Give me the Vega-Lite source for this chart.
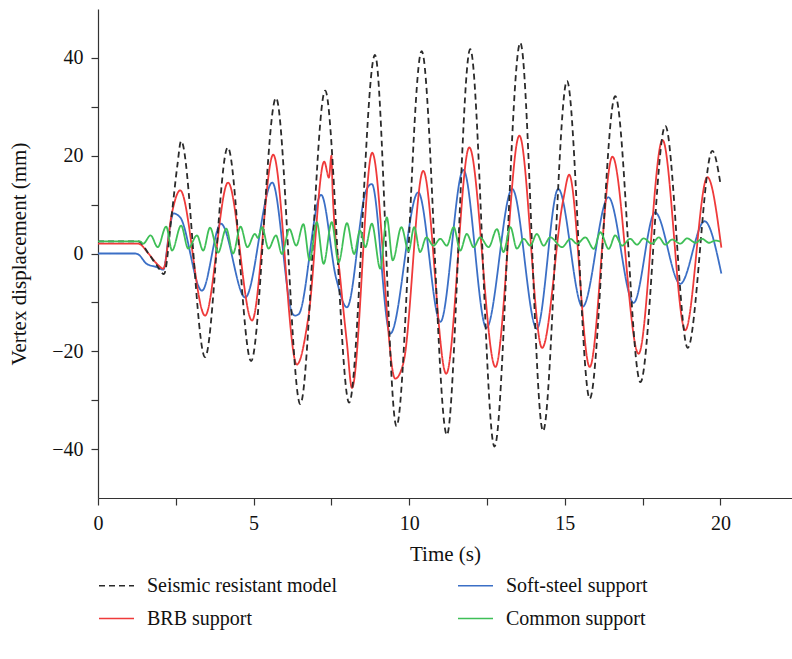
{
  "$schema": "https://vega.github.io/schema/vega-lite/v6.json",
  "autosize": {"type": "none"},
  "width": 694,
  "height": 489,
  "padding": {"left": 98, "top": 9, "right": 0, "bottom": 161},
  "background": "white",
  "config": {
    "view": {"stroke": null},
    "font": "Liberation Serif",
    "axis": {
      "labelFont": "Liberation Serif",
      "titleFont": "Liberation Serif",
      "labelFontSize": 20,
      "titleFontSize": 21,
      "titleFontWeight": "normal",
      "labelColor": "#111",
      "titleColor": "#111",
      "domainColor": "#333",
      "tickColor": "#333",
      "domainWidth": 1.2,
      "tickWidth": 1.2,
      "tickSize": 7,
      "grid": false
    },
    "legend": {
      "labelFont": "Liberation Serif",
      "labelFontSize": 20,
      "labelColor": "#111",
      "labelLimit": 400
    }
  },
  "data": {
    "values": [
      {"s": "Soft-steel support", "t": 0, "v": 0},
      {"s": "Soft-steel support", "t": 1.2, "v": 0},
      {"s": "Soft-steel support", "t": 1.3, "v": -0.2},
      {"s": "Soft-steel support", "t": 1.56, "v": -2.1},
      {"s": "Soft-steel support", "t": 1.89, "v": -2.8},
      {"s": "Soft-steel support", "t": 2.1, "v": -3.3},
      {"s": "Soft-steel support", "t": 2.31, "v": 5.4},
      {"s": "Soft-steel support", "t": 2.42, "v": 8.2},
      {"s": "Soft-steel support", "t": 2.64, "v": 7.4},
      {"s": "Soft-steel support", "t": 3.34, "v": -7.6},
      {"s": "Soft-steel support", "t": 3.95, "v": 6.1},
      {"s": "Soft-steel support", "t": 4.73, "v": -9.0},
      {"s": "Soft-steel support", "t": 5.6, "v": 14.5},
      {"s": "Soft-steel support", "t": 6.25, "v": -12.3},
      {"s": "Soft-steel support", "t": 6.33, "v": -12.7},
      {"s": "Soft-steel support", "t": 6.45, "v": -12.4},
      {"s": "Soft-steel support", "t": 7.17, "v": 12.0},
      {"s": "Soft-steel support", "t": 7.65, "v": -5.0},
      {"s": "Soft-steel support", "t": 8.0, "v": -11.0},
      {"s": "Soft-steel support", "t": 8.62, "v": 13.0},
      {"s": "Soft-steel support", "t": 8.8, "v": 14.2},
      {"s": "Soft-steel support", "t": 9.39, "v": -16.4},
      {"s": "Soft-steel support", "t": 10.29, "v": 12.5},
      {"s": "Soft-steel support", "t": 11.0, "v": -14.0},
      {"s": "Soft-steel support", "t": 11.74, "v": 17.1},
      {"s": "Soft-steel support", "t": 12.48, "v": -15.2},
      {"s": "Soft-steel support", "t": 13.31, "v": 13.2},
      {"s": "Soft-steel support", "t": 14.1, "v": -15.4},
      {"s": "Soft-steel support", "t": 14.79, "v": 13.2},
      {"s": "Soft-steel support", "t": 15.57, "v": -10.9},
      {"s": "Soft-steel support", "t": 16.4, "v": 11.5},
      {"s": "Soft-steel support", "t": 17.21, "v": -10.1},
      {"s": "Soft-steel support", "t": 17.9, "v": 8.4},
      {"s": "Soft-steel support", "t": 18.71, "v": -6.2},
      {"s": "Soft-steel support", "t": 19.49, "v": 6.6},
      {"s": "Soft-steel support", "t": 20.03, "v": -4.1},

      {"s": "BRB support", "t": 0, "v": 2.0},
      {"s": "BRB support", "t": 1.3, "v": 2.0},
      {"s": "BRB support", "t": 1.62, "v": 0},
      {"s": "BRB support", "t": 1.89, "v": -2.1},
      {"s": "BRB support", "t": 2.1, "v": -3.1},
      {"s": "BRB support", "t": 2.37, "v": 8.1},
      {"s": "BRB support", "t": 2.64, "v": 12.9},
      {"s": "BRB support", "t": 3.44, "v": -12.7},
      {"s": "BRB support", "t": 4.18, "v": 14.5},
      {"s": "BRB support", "t": 4.95, "v": -13.7},
      {"s": "BRB support", "t": 5.63, "v": 20.2},
      {"s": "BRB support", "t": 6.39, "v": -22.7},
      {"s": "BRB support", "t": 6.76, "v": -13.0},
      {"s": "BRB support", "t": 7.27, "v": 18.8},
      {"s": "BRB support", "t": 7.42, "v": 15.5},
      {"s": "BRB support", "t": 7.5, "v": 20.0},
      {"s": "BRB support", "t": 7.54, "v": 12.5},
      {"s": "BRB support", "t": 7.78, "v": -4.8},
      {"s": "BRB support", "t": 8.0, "v": -18.4},
      {"s": "BRB support", "t": 8.16, "v": -27.5},
      {"s": "BRB support", "t": 8.81, "v": 20.6},
      {"s": "BRB support", "t": 9.55, "v": -25.6},
      {"s": "BRB support", "t": 9.82, "v": -22.2},
      {"s": "BRB support", "t": 10.45, "v": 16.9},
      {"s": "BRB support", "t": 11.19, "v": -24.6},
      {"s": "BRB support", "t": 11.93, "v": 21.7},
      {"s": "BRB support", "t": 12.77, "v": -23.2},
      {"s": "BRB support", "t": 13.54, "v": 24.1},
      {"s": "BRB support", "t": 14.27, "v": -19.3},
      {"s": "BRB support", "t": 14.95, "v": 11.0},
      {"s": "BRB support", "t": 15.14, "v": 16.1},
      {"s": "BRB support", "t": 15.8, "v": -23.2},
      {"s": "BRB support", "t": 16.53, "v": 19.8},
      {"s": "BRB support", "t": 17.37, "v": -20.5},
      {"s": "BRB support", "t": 18.14, "v": 23.2},
      {"s": "BRB support", "t": 18.87, "v": -15.7},
      {"s": "BRB support", "t": 19.58, "v": 15.6},
      {"s": "BRB support", "t": 20.03, "v": 1.2},

      {"s": "Seismic resistant model", "t": 0, "v": 2.5},
      {"s": "Seismic resistant model", "t": 1.3, "v": 2.5},
      {"s": "Seismic resistant model", "t": 1.62, "v": 0},
      {"s": "Seismic resistant model", "t": 1.9, "v": -2.5},
      {"s": "Seismic resistant model", "t": 2.12, "v": -4.2},
      {"s": "Seismic resistant model", "t": 2.37, "v": 8},
      {"s": "Seismic resistant model", "t": 2.55, "v": 18},
      {"s": "Seismic resistant model", "t": 2.67, "v": 23},
      {"s": "Seismic resistant model", "t": 3.44, "v": -21.2},
      {"s": "Seismic resistant model", "t": 4.17, "v": 21.7},
      {"s": "Seismic resistant model", "t": 4.92, "v": -22.0},
      {"s": "Seismic resistant model", "t": 5.72, "v": 31.8},
      {"s": "Seismic resistant model", "t": 6.5, "v": -30.8},
      {"s": "Seismic resistant model", "t": 7.3, "v": 33.3},
      {"s": "Seismic resistant model", "t": 8.07, "v": -30.5},
      {"s": "Seismic resistant model", "t": 8.9, "v": 40.6},
      {"s": "Seismic resistant model", "t": 9.59, "v": -35.3},
      {"s": "Seismic resistant model", "t": 10.4, "v": 41.4},
      {"s": "Seismic resistant model", "t": 11.21, "v": -37.1},
      {"s": "Seismic resistant model", "t": 11.96, "v": 41.8},
      {"s": "Seismic resistant model", "t": 12.74, "v": -39.5},
      {"s": "Seismic resistant model", "t": 13.57, "v": 43.1},
      {"s": "Seismic resistant model", "t": 14.3, "v": -36.3},
      {"s": "Seismic resistant model", "t": 15.07, "v": 35.3},
      {"s": "Seismic resistant model", "t": 15.8, "v": -29.7},
      {"s": "Seismic resistant model", "t": 16.62, "v": 32.2},
      {"s": "Seismic resistant model", "t": 17.43, "v": -26.3},
      {"s": "Seismic resistant model", "t": 18.23, "v": 26.1},
      {"s": "Seismic resistant model", "t": 18.95, "v": -19.3},
      {"s": "Seismic resistant model", "t": 19.74, "v": 21.0},
      {"s": "Seismic resistant model", "t": 20.0, "v": 14.3},

      {"s": "Common support", "t": 0, "v": 2.5},
      {"s": "Common support", "t": 1.35, "v": 2.5},
      {"s": "Common support", "t": 1.45, "v": 2.0},
      {"s": "Common support", "t": 1.69, "v": 3.7},
      {"s": "Common support", "t": 1.92, "v": 1.3},
      {"s": "Common support", "t": 2.19, "v": 5.5},
      {"s": "Common support", "t": 2.38, "v": 0.6},
      {"s": "Common support", "t": 2.67, "v": 5.7},
      {"s": "Common support", "t": 2.9, "v": 1.0},
      {"s": "Common support", "t": 3.18, "v": 3.7},
      {"s": "Common support", "t": 3.38, "v": 0.6},
      {"s": "Common support", "t": 3.6, "v": 5.3},
      {"s": "Common support", "t": 3.86, "v": 0.2},
      {"s": "Common support", "t": 4.12, "v": 5.1},
      {"s": "Common support", "t": 4.34, "v": 0.0},
      {"s": "Common support", "t": 4.58, "v": 5.5},
      {"s": "Common support", "t": 4.8, "v": 1.3},
      {"s": "Common support", "t": 5.04, "v": 4.0},
      {"s": "Common support", "t": 5.14, "v": 3.2},
      {"s": "Common support", "t": 5.27, "v": 5.4},
      {"s": "Common support", "t": 5.48, "v": 1.0},
      {"s": "Common support", "t": 5.72, "v": 3.7},
      {"s": "Common support", "t": 5.91, "v": -0.1},
      {"s": "Common support", "t": 6.15, "v": 5.0},
      {"s": "Common support", "t": 6.37, "v": 1.6},
      {"s": "Common support", "t": 6.6, "v": 6.0},
      {"s": "Common support", "t": 6.8, "v": -1.4},
      {"s": "Common support", "t": 7.03, "v": 6.4},
      {"s": "Common support", "t": 7.25, "v": -2.1},
      {"s": "Common support", "t": 7.51, "v": 6.4},
      {"s": "Common support", "t": 7.73, "v": -1.8},
      {"s": "Common support", "t": 8.0, "v": 6.2},
      {"s": "Common support", "t": 8.23, "v": -0.1},
      {"s": "Common support", "t": 8.42, "v": 4.7},
      {"s": "Common support", "t": 8.59, "v": 1.3},
      {"s": "Common support", "t": 8.8, "v": 6.1},
      {"s": "Common support", "t": 9.07, "v": -3.1},
      {"s": "Common support", "t": 9.28, "v": 7.4},
      {"s": "Common support", "t": 9.47, "v": -1.4},
      {"s": "Common support", "t": 9.75, "v": 5.4},
      {"s": "Common support", "t": 9.98, "v": 0.5},
      {"s": "Common support", "t": 10.16, "v": 5.4},
      {"s": "Common support", "t": 10.35, "v": 0.3},
      {"s": "Common support", "t": 10.55, "v": 3.3},
      {"s": "Common support", "t": 10.78, "v": 1.6},
      {"s": "Common support", "t": 11.0, "v": 3.0},
      {"s": "Common support", "t": 11.21, "v": 1.6},
      {"s": "Common support", "t": 11.43, "v": 5.4},
      {"s": "Common support", "t": 11.64, "v": 0.6},
      {"s": "Common support", "t": 11.85, "v": 4.0},
      {"s": "Common support", "t": 12.07, "v": 1.3},
      {"s": "Common support", "t": 12.28, "v": 3.3},
      {"s": "Common support", "t": 12.55, "v": 1.3},
      {"s": "Common support", "t": 12.82, "v": 5.0},
      {"s": "Common support", "t": 13.03, "v": 0.3},
      {"s": "Common support", "t": 13.25, "v": 5.4},
      {"s": "Common support", "t": 13.46, "v": 1.0},
      {"s": "Common support", "t": 13.68, "v": 3.0},
      {"s": "Common support", "t": 13.89, "v": 1.6},
      {"s": "Common support", "t": 14.1, "v": 4.0},
      {"s": "Common support", "t": 14.32, "v": 1.6},
      {"s": "Common support", "t": 14.53, "v": 3.3},
      {"s": "Common support", "t": 14.91, "v": 1.3},
      {"s": "Common support", "t": 15.18, "v": 3.0},
      {"s": "Common support", "t": 15.39, "v": 2.0},
      {"s": "Common support", "t": 15.66, "v": 3.3},
      {"s": "Common support", "t": 15.93, "v": 0.95},
      {"s": "Common support", "t": 16.14, "v": 4.35},
      {"s": "Common support", "t": 16.41, "v": 0.95},
      {"s": "Common support", "t": 16.62, "v": 3.7},
      {"s": "Common support", "t": 16.84, "v": 1.6},
      {"s": "Common support", "t": 17.1, "v": 3.0},
      {"s": "Common support", "t": 17.32, "v": 1.8},
      {"s": "Common support", "t": 17.53, "v": 3.1},
      {"s": "Common support", "t": 17.8, "v": 2.0},
      {"s": "Common support", "t": 18.02, "v": 3.3},
      {"s": "Common support", "t": 18.23, "v": 1.8},
      {"s": "Common support", "t": 18.45, "v": 2.86},
      {"s": "Common support", "t": 18.71, "v": 2.0},
      {"s": "Common support", "t": 18.93, "v": 3.1},
      {"s": "Common support", "t": 19.2, "v": 2.2},
      {"s": "Common support", "t": 19.41, "v": 3.0},
      {"s": "Common support", "t": 19.63, "v": 2.2},
      {"s": "Common support", "t": 19.84, "v": 2.65},
      {"s": "Common support", "t": 20.0, "v": 2.45}
    ]
  },
  "mark": {"type": "line", "interpolate": "monotone", "strokeWidth": 1.8, "clip": true},
  "encoding": {
    "x": {
      "field": "t",
      "type": "quantitative",
      "scale": {"domain": [0, 22.3], "nice": false, "zero": false},
      "axis": {
        "title": "Time (s)",
        "values": [0, 2.5, 5, 7.5, 10, 12.5, 15, 17.5, 20],
        "labelExpr": "datum.value % 5 === 0 ? datum.label : ''",
        "labelPadding": 8,
        "titlePadding": 10,
        "labelFlush": false,
        "labelOverlap": false
      }
    },
    "y": {
      "field": "v",
      "type": "quantitative",
      "scale": {"domain": [-50, 50], "nice": false},
      "axis": {
        "title": "Vertex displacement (mm)",
        "values": [-40, -30, -20, -10, 0, 10, 20, 30, 40],
        "labelExpr": "datum.value % 20 === 0 ? datum.label : ''",
        "labelPadding": 8,
        "titlePadding": 22,
        "labelOverlap": false
      }
    },
    "color": {
      "field": "s",
      "type": "nominal",
      "scale": {
        "domain": ["Seismic resistant model", "BRB support", "Soft-steel support", "Common support"],
        "range": ["#2a2a2a", "#ef3a3a", "#3b6fc6", "#3fbf57"]
      },
      "legend": {
        "title": null,
        "orient": "none",
        "legendX": 0,
        "legendY": 558,
        "columns": 2,
        "columnPadding": 117,
        "rowPadding": 4,
        "symbolType": "stroke",
        "symbolSize": 1225,
        "symbolStrokeWidth": 1.6,
        "labelOffset": 12
      }
    },
    "strokeDash": {
      "field": "s",
      "type": "nominal",
      "scale": {
        "domain": ["Seismic resistant model", "BRB support", "Soft-steel support", "Common support"],
        "range": [[6, 4], [1, 0], [1, 0], [1, 0]]
      },
      "legend": {
        "title": null,
        "orient": "none",
        "legendX": 0,
        "legendY": 558,
        "columns": 2,
        "columnPadding": 117,
        "rowPadding": 4,
        "symbolType": "stroke",
        "symbolSize": 1225,
        "symbolStrokeWidth": 1.6,
        "labelOffset": 12
      }
    }
  }
}
